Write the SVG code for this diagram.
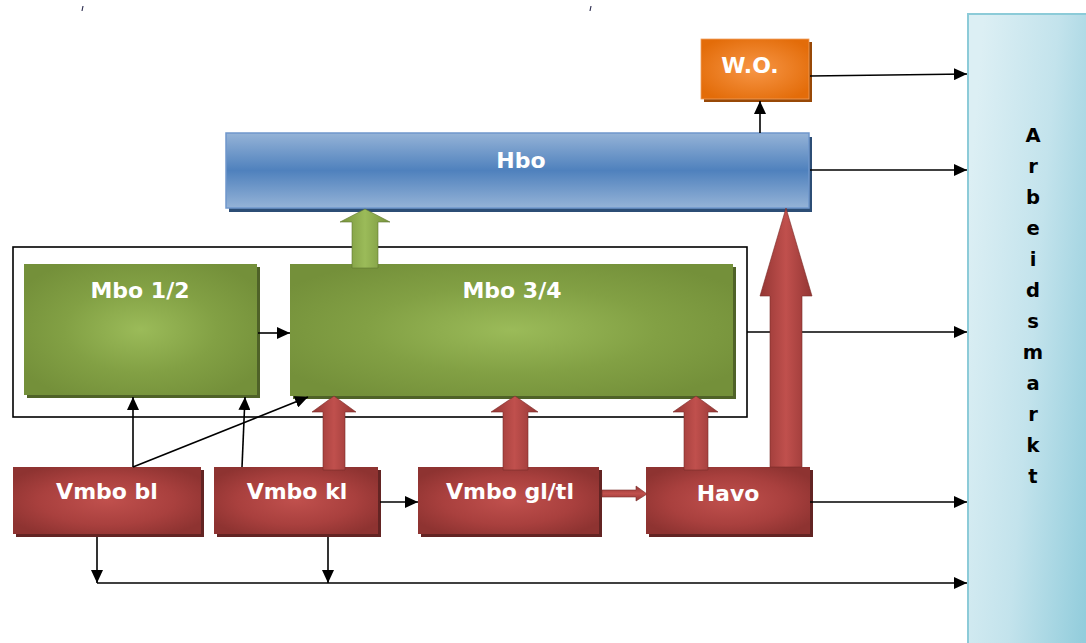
<svg xmlns="http://www.w3.org/2000/svg" width="1086" height="643" viewBox="0 0 1086 643">
<style>
.lbl{font-family:"DejaVu Sans","Liberation Sans",sans-serif;font-weight:bold;font-size:22px;fill:#fff;text-anchor:middle}
.am{font-family:"DejaVu Sans","Liberation Sans",sans-serif;font-weight:bold;font-size:19.5px;fill:#000;text-anchor:middle}
.conn{stroke:#000;stroke-width:1.6;fill:none}
</style>
<defs>
<radialGradient id="gRed" cx="50%" cy="50%" r="60%">
<stop offset="0" stop-color="#C0504D"/><stop offset="0.6" stop-color="#A9403E"/><stop offset="1" stop-color="#8E3331"/>
</radialGradient>
<radialGradient id="gGreen" cx="50%" cy="50%" r="60%">
<stop offset="0" stop-color="#9BBB59"/><stop offset="0.55" stop-color="#82A044"/><stop offset="1" stop-color="#74903A"/>
</radialGradient>
<radialGradient id="gOrange" cx="50%" cy="50%" r="60%">
<stop offset="0" stop-color="#F79646"/><stop offset="1" stop-color="#E36C09"/>
</radialGradient>
<linearGradient id="gBlue" x1="0" y1="0" x2="0" y2="1">
<stop offset="0" stop-color="#95B3D7"/><stop offset="0.5" stop-color="#4F81BD"/><stop offset="1" stop-color="#95B3D7"/>
</linearGradient>
<linearGradient id="gAM" x1="0" y1="0.3" x2="1" y2="0.7">
<stop offset="0" stop-color="#DCEFF4"/><stop offset="0.5" stop-color="#C3E3EC"/><stop offset="1" stop-color="#93CDDC"/>
</linearGradient>
<linearGradient id="gRedArrow" x1="0" y1="0" x2="1" y2="0">
<stop offset="0" stop-color="#943634"/><stop offset="0.5" stop-color="#C0504D"/><stop offset="1" stop-color="#943634"/>
</linearGradient>
<linearGradient id="gRedArrowH" x1="0" y1="0" x2="0" y2="1">
<stop offset="0" stop-color="#943634"/><stop offset="0.5" stop-color="#C0504D"/><stop offset="1" stop-color="#943634"/>
</linearGradient>
<linearGradient id="gGreenArrow" x1="0" y1="0" x2="1" y2="0">
<stop offset="0" stop-color="#77933C"/><stop offset="0.5" stop-color="#9BBB59"/><stop offset="1" stop-color="#77933C"/>
</linearGradient>
<marker id="ah" viewBox="0 0 13 12" refX="13" refY="6" markerWidth="13" markerHeight="12" markerUnits="userSpaceOnUse" orient="auto">
<path d="M0,0 L13,6 L0,12 Z" fill="#000"/>
</marker>
</defs>
<rect width="1086" height="643" fill="#fff"/>
<g id="ticks">
<path d="M83,6 L82,11 M591,6 L590,11" stroke="#335" stroke-width="1.2"/>
</g>
<g id="arbeidsmarkt">
<rect x="968" y="14" width="130" height="640" fill="url(#gAM)" stroke="#8CCBD8" stroke-width="2"/>
<text class="am" x="1033" y="142">A</text>
<text class="am" x="1033" y="173">r</text>
<text class="am" x="1033" y="204">b</text>
<text class="am" x="1033" y="235">e</text>
<text class="am" x="1033" y="266">i</text>
<text class="am" x="1033" y="297">d</text>
<text class="am" x="1033" y="328">s</text>
<text class="am" x="1033" y="359">m</text>
<text class="am" x="1033" y="390">a</text>
<text class="am" x="1033" y="421">r</text>
<text class="am" x="1033" y="452">k</text>
<text class="am" x="1033" y="483">t</text>
</g>
<g id="frame">
<rect x="13" y="247" width="734" height="170" fill="none" stroke="#000" stroke-width="1.6"/>
</g>
<g id="wo">
<rect x="704" y="42" width="108" height="60" fill="#984807"/>
<rect x="701" y="39" width="108" height="60" fill="url(#gOrange)" stroke="#F0A060" stroke-width="0.8"/>
<text class="lbl" x="750" y="73">W.O.</text>
</g>
<g id="hbo">
<rect x="229" y="137" width="583" height="75" fill="#2C4D75"/>
<rect x="226" y="133" width="583" height="75" fill="url(#gBlue)" stroke="#6F97CC" stroke-width="1.5"/>
<text class="lbl" x="521" y="168">Hbo</text>
</g>
<g id="mbo12">
<rect x="27" y="267" width="233" height="131" fill="#4F6228"/>
<rect x="24" y="264" width="233" height="131" fill="url(#gGreen)"/>
<text class="lbl" x="140" y="298">Mbo 1/2</text>
</g>
<g id="mbo34">
<rect x="293" y="267" width="443" height="132" fill="#4F6228"/>
<rect x="290" y="264" width="443" height="132" fill="url(#gGreen)"/>
<text class="lbl" x="512" y="298">Mbo 3/4</text>
</g>
<g id="vmbobl">
<rect x="16" y="470" width="188" height="67" fill="#632423"/>
<rect x="13" y="467" width="188" height="67" fill="url(#gRed)"/>
<text class="lbl" x="107" y="499">Vmbo bl</text>
</g>
<g id="vmbokl">
<rect x="217" y="470" width="164" height="67" fill="#632423"/>
<rect x="214" y="467" width="164" height="67" fill="url(#gRed)"/>
<text class="lbl" x="297" y="499">Vmbo kl</text>
</g>
<g id="vmbogltl">
<rect x="421" y="470" width="181" height="67" fill="#632423"/>
<rect x="418" y="467" width="181" height="67" fill="url(#gRed)"/>
<text class="lbl" x="510" y="499">Vmbo gl/tl</text>
</g>
<g id="havo">
<rect x="649" y="470" width="164" height="67" fill="#632423"/>
<rect x="646" y="467" width="164" height="67" fill="url(#gRed)"/>
<text class="lbl" x="728" y="501">Havo</text>
</g>
<g id="connectors">
<path class="conn" d="M760,133 L760,101" marker-end="url(#ah)"/>
<path class="conn" d="M810,76 L967,74" marker-end="url(#ah)"/>
<path class="conn" d="M810,170 L967,170" marker-end="url(#ah)"/>
<path class="conn" d="M747,332 L967,332" marker-end="url(#ah)"/>
<path class="conn" d="M810,502 L967,502" marker-end="url(#ah)"/>
<path class="conn" d="M97,583 L967,583" marker-end="url(#ah)"/>
<path class="conn" d="M97,537 L97,583" marker-end="url(#ah)"/>
<path class="conn" d="M328,537 L328,583" marker-end="url(#ah)"/>
<path class="conn" d="M133,467 L133,397" marker-end="url(#ah)"/>
<path class="conn" d="M133,467 L308,397" marker-end="url(#ah)"/>
<path class="conn" d="M242,467 L245,397" marker-end="url(#ah)"/>
<path class="conn" d="M258,333 L290,333" marker-end="url(#ah)"/>
<path class="conn" d="M380,502 L418,502" marker-end="url(#ah)"/>
<polygon points="352,268 378,268 378,222 390,222 365,209 340,222 352,222" fill="url(#gGreenArrow)" stroke="#5F7530" stroke-width="0.6"/>
<polygon points="323,470 345,470 345,412 356,412 334,396 312,412 323,412" fill="url(#gRedArrow)" stroke="#7A2B29" stroke-width="0.6"/>
<polygon points="503,470 528,470 528,412 538,412 515,396 491,412 503,412" fill="url(#gRedArrow)" stroke="#7A2B29" stroke-width="0.6"/>
<polygon points="684,470 708,470 708,412 718,412 696,396 673,412 684,412" fill="url(#gRedArrow)" stroke="#7A2B29" stroke-width="0.6"/>
<polygon points="770,467 802,467 802,296 812,296 786,208 760,296 770,296" fill="url(#gRedArrow)" stroke="#7A2B29" stroke-width="0.6"/>
<polygon points="602,490 636,490 636,486 647,494 636,501 636,497 602,497" fill="url(#gRedArrowH)" stroke="#7A2B29" stroke-width="0.6"/>
</g>
</svg>
